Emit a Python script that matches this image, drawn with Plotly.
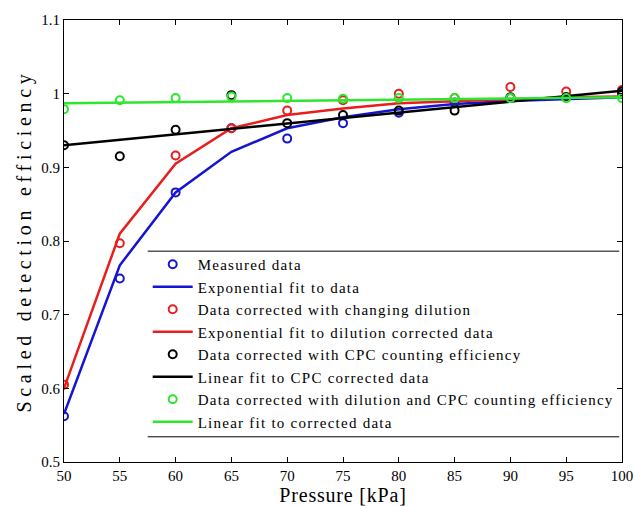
import plotly.graph_objects as go

pressure = [50, 55, 60, 65, 70, 75, 80, 85, 90, 95, 100]

measured = [0.562, 0.749, 0.866, 0.953, 0.939, 0.960, 0.974, 0.988, 0.994, 0.995, 1.000]
measured_fit = [0.565, 0.767, 0.866, 0.921, 0.953, 0.968, 0.979, 0.986, 0.990, 0.993, 0.995]

dilution = [0.605, 0.797, 0.916, 0.953, 0.977, 0.991, 1.000, 0.994, 1.009, 1.003, 1.005]
dilution_fit = [0.600, 0.810, 0.905, 0.953, 0.971, 0.980, 0.987, 0.990, 0.993, 0.995, 0.996]

cpc = [0.930, 0.915, 0.951, 0.998, 0.960, 0.971, 0.977, 0.977, 0.995, 0.995, 1.003]
cpc_fit_x = [50, 100]
cpc_fit = [0.930, 1.004]

both = [0.979, 0.991, 0.994, 0.996, 0.994, 0.993, 0.994, 0.994, 0.994, 0.994, 0.994]
both_fit_x = [50, 100]
both_fit = [0.987, 0.995]

BLUE = "#1414d2"
RED = "#e81e1e"
BLACK = "#000000"
GREEN = "#2ee62e"

FONT = "Liberation Serif, Times New Roman, serif"


def spaced(text, px):
    return '<span style="letter-spacing:%spx">%s</span>' % (px, text)


fig = go.Figure()

def markers(y, color, name):
    fig.add_trace(go.Scatter(x=pressure, y=y, mode="markers", name=spaced(name, 1.25),
                             marker=dict(symbol="circle-open", size=8, color=color,
                                         line=dict(width=2, color=color))))

def line(x, y, color, name):
    fig.add_trace(go.Scatter(x=x, y=y, mode="lines", name=spaced(name, 1.25),
                             line=dict(color=color, width=2.5)))

markers(measured, BLUE, "Measured data")
line(pressure, measured_fit, BLUE, "Exponential fit to data")
markers(dilution, RED, "Data corrected with changing dilution")
line(pressure, dilution_fit, RED, "Exponential fit to dilution corrected data")
markers(cpc, BLACK, "Data corrected with CPC counting efficiency")
line(cpc_fit_x, cpc_fit, BLACK, "Linear fit to CPC corrected data")
markers(both, GREEN, "Data corrected with dilution and CPC counting efficiency")
line(both_fit_x, both_fit, GREEN, "Linear fit to corrected data")

xt = [50, 55, 60, 65, 70, 75, 80, 85, 90, 95, 100]
yt = [0.5, 0.6, 0.7, 0.8, 0.9, 1.0, 1.1]
ytl = ["0.5", "0.6", "0.7", "0.8", "0.9", "1", "1.1"]

axis_common = dict(showgrid=False, zeroline=False, showline=True, linecolor="black",
                   linewidth=1, mirror="ticks", ticks="inside", ticklen=5,
                   tickcolor="black", automargin=False,
                   tickfont=dict(family=FONT, size=15, color="black"))

fig.update_xaxes(range=[50, 100], tickvals=xt,
                 title=dict(text=spaced("Pressure [kPa]", 0.8),
                            font=dict(family=FONT, size=20, color="black"), standoff=2),
                 **axis_common)
fig.update_yaxes(range=[0.5, 1.1], tickvals=yt, ticktext=ytl,
                 title=dict(text=spaced("Scaled detection efficiency", 4.7),
                            font=dict(family=FONT, size=20, color="black"), standoff=4),
                 **axis_common)

fig.update_layout(
    width=636, height=506,
    margin=dict(l=64, r=14, t=20, b=44),
    plot_bgcolor="white", paper_bgcolor="white",
    font=dict(family=FONT, color="black"),
    showlegend=True,
    legend=dict(x=0.15, y=0.484, xanchor="left", yanchor="top",
                bgcolor="rgba(0,0,0,0)", borderwidth=0,
                font=dict(family=FONT, size=15, color="black"),
                itemwidth=40, tracegroupgap=0),
    shapes=[
        dict(type="line", xref="paper", yref="paper", x0=0.15, x1=0.995, y0=0.477, y1=0.477,
             line=dict(color="black", width=1)),
        dict(type="line", xref="paper", yref="paper", x0=0.15, x1=0.995, y0=0.057, y1=0.057,
             line=dict(color="black", width=1)),
    ],
)

fig.write_html("out.html")
